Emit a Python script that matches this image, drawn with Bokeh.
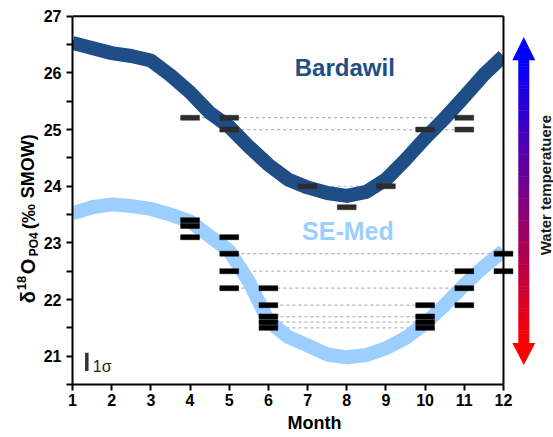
import numpy as np
from bokeh.plotting import figure
from bokeh.layouts import row
from bokeh.models import Label, FixedTicker, Range1d
from bokeh.core.properties import value
from bokeh.embed import file_html
from bokeh.resources import INLINE

# ---------------- data ----------------
curve_month = [1, 1.5, 2, 2.5, 3, 3.5, 4, 4.5, 5, 5.5, 6, 6.5, 7, 7.5, 8, 8.5, 9, 9.5, 10, 10.5, 11, 11.5, 12]
bardawil_curve = [26.53, 26.44, 26.35, 26.30, 26.22, 25.96, 25.66, 25.30, 25.05, 24.70, 24.38, 24.12, 23.98,
                  23.88, 23.83, 23.90, 24.12, 24.47, 24.85, 25.20, 25.58, 25.97, 26.30]
semed_curve = [23.52, 23.63, 23.68, 23.65, 23.60, 23.50, 23.38, 23.12, 22.86, 22.32, 21.62, 21.34, 21.19,
               21.03, 20.98, 21.02, 21.14, 21.32, 21.58, 21.90, 22.26, 22.58, 22.86]

bardawil_month = [4, 5, 5, 7, 8, 9, 10, 11, 11]
bardawil_d18o = [25.21, 25.21, 25.00, 24.00, 23.63, 24.00, 25.00, 25.21, 25.00]

semed_month = [4, 4, 4, 5, 5, 5, 5, 6, 6, 6, 6, 6, 10, 10, 10, 10, 11, 11, 11, 12, 12]
semed_d18o = [23.40, 23.30, 23.10, 23.10, 22.81, 22.50, 22.20, 22.20, 21.90, 21.70, 21.60, 21.50,
              21.90, 21.70, 21.60, 21.50, 22.50, 22.20, 21.90, 22.81, 22.50]

# dotted guide lines linking equal values
bardawil_link_from = [4, 5, 7]
bardawil_link_to = [11, 11, 9]
bardawil_link_val = [25.21, 25.00, 24.00]
semed_link_from = [4, 5, 5, 5, 6, 6, 6, 6]
semed_link_to = [5, 12, 11, 11, 11, 10, 10, 10]
semed_link_val = [23.10, 22.81, 22.50, 22.20, 21.90, 21.70, 21.60, 21.50]

sigma_low, sigma_high = 20.74, 21.06
month_ticks = [1, 2, 3, 4, 5, 6, 7, 8, 9, 10, 11, 12]
y_ticks = [21, 22, 23, 24, 25, 26, 27]
y_minor = [20.5, 21.5, 22.5, 23.5, 24.5, 25.5, 26.5]

FONT = "Liberation Sans"
DARK = "#1F4E86"
LIGHT = "#9CCEFF"

FRAME_H = 371
TOP = 13
LEFT_W = 40

# ---------------- main figure ----------------
p = figure(frame_width=484, frame_height=FRAME_H, min_border_left=69 - LEFT_W, min_border_right=0,
           min_border_top=TOP, min_border_bottom=49,
           x_range=Range1d(1, 13.353), y_range=Range1d(20.5, 27.05),
           output_backend="svg", toolbar_location=None)
p.outline_line_color = None
p.grid.visible = False
p.background_fill_color = "white"
p.border_fill_color = "white"

# dotted guides
p.segment(x0=bardawil_link_from, x1=bardawil_link_to, y0=bardawil_link_val, y1=bardawil_link_val,
          line_color="#b5b5b5", line_width=1.2, line_dash="3 3")
p.segment(x0=semed_link_from, x1=semed_link_to, y0=semed_link_val, y1=semed_link_val,
          line_color="#b5b5b5", line_width=1.2, line_dash="3 3")

# smooth curves
p.line(curve_month, bardawil_curve, line_color=DARK, line_width=14, line_join="round")
p.line(curve_month, semed_curve, line_color=LIGHT, line_width=14, line_join="round")

# clip curves at month 12 (frame edge)
p.quad(left=12, right=12.3, bottom=20.5, top=27.05, fill_color="white", line_color=None)

# markers
p.rect(x=bardawil_month, y=bardawil_d18o, width=0.48, height=5, height_units="screen",
       fill_color="#2c2c2c", line_color="#2c2c2c", line_width=0.5)
p.rect(x=semed_month, y=semed_d18o, width=0.48, height=5, height_units="screen",
       fill_color="black", line_color="black", line_width=0.5)

# 1 sigma bar
p.segment(x0=[1.365], x1=[1.365], y0=[sigma_low], y1=[sigma_high], line_color="#333333", line_width=3.5)
p.add_layout(Label(x=1.52, y=20.81, text="1σ", text_font=FONT, text_font_size="16px",
                   text_color="#222222", text_baseline="alphabetic"))

# frame top/right lines
p.segment(x0=[1, 12], y0=[27, 20.5], x1=[12, 12], y1=[27, 27], line_color="black", line_width=2)

# series labels
p.add_layout(Label(x=7.95, y=25.85, text="Bardawil", text_font=FONT, text_font_size="24px",
                   text_font_style="bold", text_color=DARK, text_align="center"))
p.add_layout(Label(x=8.03, y=22.96, text="SE-Med", text_font=FONT, text_font_size="25px",
                   text_font_style="bold", text_color=LIGHT, text_align="center"))

# gradient arrow (water temperature)
ax_c, shaft_hw, head_hw = 12.518, 0.14, 0.293
y_tip_top, y_base_top, y_base_bot, y_tip_bot = 26.635, 26.224, 21.233, 20.845
n = 90
edges = np.linspace(y_base_bot, y_base_top, n + 1)
cols = []
for i in range(n):
    t = (i + 0.5) / n
    cols.append("#%02x%02x%02x" % (int(round(255 * (1 - t))), 0, int(round(255 * t))))
p.quad(left=ax_c - shaft_hw, right=ax_c + shaft_hw, bottom=edges[:-1] - 0.005, top=edges[1:] + 0.005,
       fill_color=cols, line_color=None)
p.patch([ax_c - head_hw, ax_c + head_hw, ax_c], [y_base_top, y_base_top, y_tip_top],
        fill_color="#0000ff", line_color=None)
p.patch([ax_c - head_hw, ax_c + head_hw, ax_c], [y_base_bot, y_base_bot, y_tip_bot],
        fill_color="#ff0000", line_color=None)
p.text(x=[13.075], y=[24.02], text=["Water temperatuere"], angle=np.pi / 2, text_font=value(FONT),
       text_font_size="15px", text_font_style="bold", text_color="#1a1a1a",
       text_align="center", text_baseline="middle")

# axes
for ax in (p.xaxis[0], p.yaxis[0]):
    ax.axis_line_width = 2
    ax.axis_line_color = "black"
    ax.major_tick_line_width = 2
    ax.minor_tick_line_width = 2
    ax.major_tick_in = 0
    ax.major_tick_out = 6
    ax.minor_tick_in = 0
    ax.minor_tick_out = 6
    ax.major_label_text_font = FONT
    ax.major_label_text_font_size = "16px"
    ax.major_label_text_font_style = "bold"
    ax.major_label_text_color = "black"

p.xaxis.ticker = FixedTicker(ticks=month_ticks, minor_ticks=[])
p.xaxis.bounds = (1, 12)
p.xaxis.major_label_standoff = 3
p.xaxis.axis_label = "Month"
p.xaxis.axis_label_text_font = FONT
p.xaxis.axis_label_text_font_size = "18px"
p.xaxis.axis_label_text_font_style = "bold"
p.xaxis.axis_label_text_color = "black"
p.xaxis.axis_label_standoff = 4

p.yaxis.ticker = FixedTicker(ticks=y_ticks, minor_ticks=y_minor)
p.yaxis.bounds = (20.5, 27)
p.yaxis.major_label_standoff = 5

# ---------------- left strip: y-axis title ----------------
q = figure(frame_width=LEFT_W, frame_height=FRAME_H, min_border_left=0, min_border_right=0,
           min_border_top=TOP, min_border_bottom=49,
           x_range=Range1d(0, LEFT_W), y_range=Range1d(20.5, 27.05),
           x_axis_type=None, y_axis_type=None,
           output_backend="svg", toolbar_location=None)
q.outline_line_color = None
q.grid.visible = False
q.background_fill_color = "white"
q.border_fill_color = "white"


def py2y(py):
    return 27 - (py - 16) / 56.66


title_txt = ["δ", "18", "O", "PO4", "(‰", "SMOW)"]
title_size = ["20px", "13px", "20px", "12px", "19px", "18px"]
title_bx = [27.5, 20.5, 27.5, 33.5, 27.5, 27.5]
title_start = [303, 290, 274, 256, 229, 198]
for txt, fs, bx, sy in zip(title_txt, title_size, title_bx, title_start):
    q.text(x=[bx], y=[py2y(sy)], text=[txt], angle=np.pi / 2, text_font=value(FONT),
           text_font_size=fs, text_font_style="bold", text_color="black",
           text_align="left", text_baseline="alphabetic")

layout = row(q, p, spacing=0)
open("out.html", "w").write(file_html(layout, INLINE))
